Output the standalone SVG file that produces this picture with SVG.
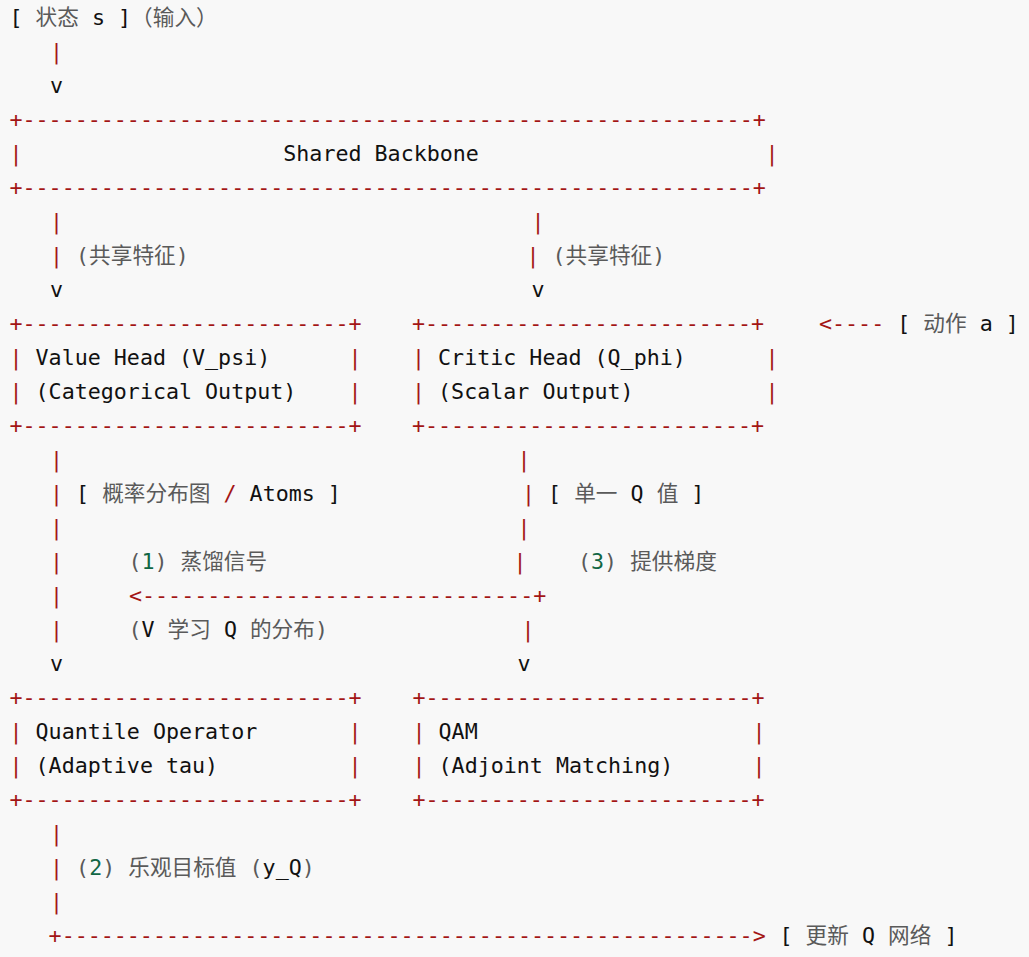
<svg xmlns="http://www.w3.org/2000/svg" width="1029" height="957" viewBox="0 0 1029 957" xml:space="preserve">
<style>
text { font-family: "DejaVu Sans Mono", "Noto Sans CJK SC", monospace; font-size: 21.66px; white-space: pre; }
.r { fill: #a31515; }
.k { fill: #111111; }
.g { fill: #5a5a5a; }
.n { fill: #116644; }
</style>
<rect width="1029" height="957" fill="#f8f8f8"/>

<g id="input-state">
<text x="9.5" y="25"><tspan class="k">[ </tspan><tspan class="g">状态</tspan><tspan class="k"> s ]</tspan><tspan class="g">（输入）</tspan></text>
</g>

<g id="shared-backbone">
<text class="r" x="9.5" y="127">+--------------------------------------------------------+</text>
<text class="r" x="9.5" y="161">|</text>
<text class="k" x="283.3" y="161">Shared Backbone</text>
<text class="r" x="765.5" y="161">|</text>
<text class="r" x="9.5" y="195">+--------------------------------------------------------+</text>
</g>

<g id="value-head">
<text class="r" x="9.5" y="331">+-------------------------+</text>
<text x="9.5" y="365"><tspan class="r">|</tspan><tspan class="k"> Value Head (V_psi)</tspan></text>
<text class="r" x="348.5" y="365">|</text>
<text x="9.5" y="399"><tspan class="r">|</tspan><tspan class="k"> (Categorical Output)</tspan></text>
<text class="r" x="348.5" y="399">|</text>
<text class="r" x="9.5" y="433">+-------------------------+</text>
</g>

<g id="critic-head">
<text class="r" x="412" y="331">+-------------------------+</text>
<text x="412" y="365"><tspan class="r">|</tspan><tspan class="k"> Critic Head (Q_phi)</tspan></text>
<text class="r" x="765.5" y="365">|</text>
<text x="412" y="399"><tspan class="r">|</tspan><tspan class="k"> (Scalar Output)</tspan></text>
<text class="r" x="765.5" y="399">|</text>
<text class="r" x="412" y="433">+-------------------------+</text>
</g>

<g id="action-input">
<text x="819" y="331"><tspan class="r">&lt;----</tspan><tspan class="k"> [ </tspan><tspan class="g">动作</tspan><tspan class="k"> a ]</tspan></text>
</g>

<g id="quantile-operator">
<text class="r" x="9.5" y="705">+-------------------------+</text>
<text x="9.5" y="739"><tspan class="r">|</tspan><tspan class="k"> Quantile Operator</tspan></text>
<text class="r" x="348.5" y="739">|</text>
<text x="9.5" y="773"><tspan class="r">|</tspan><tspan class="k"> (Adaptive tau)</tspan></text>
<text class="r" x="348.5" y="773">|</text>
<text class="r" x="9.5" y="807">+-------------------------+</text>
</g>

<g id="qam">
<text class="r" x="412.5" y="705">+-------------------------+</text>
<text x="412.5" y="739"><tspan class="r">|</tspan><tspan class="k"> QAM</tspan></text>
<text class="r" x="752.5" y="739">|</text>
<text x="412.5" y="773"><tspan class="r">|</tspan><tspan class="k"> (Adjoint Matching)</tspan></text>
<text class="r" x="752.5" y="773">|</text>
<text class="r" x="412.5" y="807">+-------------------------+</text>
</g>

<g id="update-q">
<text x="779.5" y="943"><tspan class="k">[ </tspan><tspan class="g">更新</tspan><tspan class="k"> Q </tspan><tspan class="g">网络</tspan><tspan class="k"> ]</tspan></text>
</g>

<g id="connectors">
<!-- input to backbone -->
<text class="r" x="50" y="59">|</text>
<text class="k" x="50" y="93">v</text>
<!-- backbone to value head -->
<text class="r" x="50" y="229">|</text>
<text x="50" y="263"><tspan class="r">|</tspan><tspan class="g"> (共享特征)</tspan></text>
<text class="k" x="50" y="297">v</text>
<!-- backbone to critic head -->
<text class="r" x="531.5" y="229">|</text>
<text x="526.5" y="263"><tspan class="r">|</tspan><tspan class="g"> (共享特征)</tspan></text>
<text class="k" x="531.5" y="297">v</text>
<!-- value head to quantile operator -->
<text class="r" x="50" y="467">|</text>
<text x="50" y="501"><tspan class="r">|</tspan><tspan class="k"> [ </tspan><tspan class="g">概率分布图</tspan><tspan class="k"> </tspan><tspan class="r">/</tspan><tspan class="k"> Atoms ]</tspan></text>
<text class="r" x="50" y="535">|</text>
<text class="r" x="50" y="569">|</text>
<text class="r" x="50" y="603">|</text>
<text class="r" x="50" y="637">|</text>
<text class="k" x="50" y="671">v</text>
<!-- critic head to QAM -->
<text class="r" x="517.5" y="467">|</text>
<text x="522" y="501"><tspan class="r">|</tspan><tspan class="k"> [ </tspan><tspan class="g">单一</tspan><tspan class="k"> Q </tspan><tspan class="g">值</tspan><tspan class="k"> ]</tspan></text>
<text class="r" x="517.5" y="535">|</text>
<text class="r" x="513.5" y="569">|</text>
<text x="578" y="569"><tspan class="g">(</tspan><tspan class="n">3</tspan><tspan class="g">) 提供梯度</tspan></text>
<text class="r" x="521.5" y="637">|</text>
<text class="k" x="517.5" y="671">v</text>
<!-- distillation arrow -->
<text x="128.4" y="569"><tspan class="g">(</tspan><tspan class="n">1</tspan><tspan class="g">) 蒸馏信号</tspan></text>
<text class="r" x="129" y="603">&lt;------------------------------+</text>
<text x="128.4" y="637"><tspan class="g">(</tspan><tspan class="k">V</tspan><tspan class="g"> 学习 </tspan><tspan class="k">Q</tspan><tspan class="g"> 的分布)</tspan></text>
<!-- quantile operator to update -->
<text class="r" x="50" y="841">|</text>
<text x="50" y="875"><tspan class="r">|</tspan><tspan class="g"> (</tspan><tspan class="n">2</tspan><tspan class="g">) 乐观目标值 (</tspan><tspan class="k">y_Q</tspan><tspan class="g">)</tspan></text>
<text class="r" x="50" y="909">|</text>
<text class="r" x="48.6" y="943">+-----------------------------------------------------&gt;</text>
</g>
</svg>
